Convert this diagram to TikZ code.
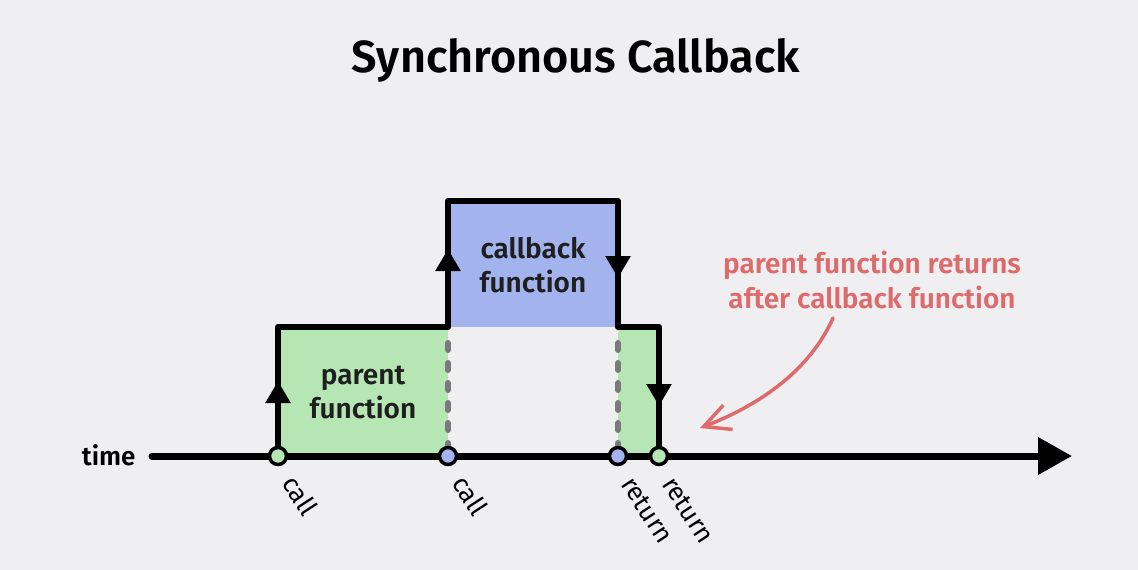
\documentclass[tikz,border=0pt]{standalone}
\usepackage{fontspec}
\setmainfont{Fira Sans}
\newfontfamily\semib{Fira Sans SemiBold}
\usetikzlibrary{arrows.meta}
\definecolor{bg}{HTML}{EFEFF2}
\definecolor{pgreen}{HTML}{B5E6B3}
\definecolor{pblue}{HTML}{A3B3EE}
\definecolor{note}{HTML}{DD6B6B}
\definecolor{dgray}{HTML}{7A7A7A}
\tikzset{
  lbl/.style={font=\semib\fontsize{28}{34}\selectfont, text=black!88, align=center},
  outline/.style={line width=6pt, line join=round, line cap=round},
  dot/.style={circle, draw=black, line width=3.5pt, minimum size=17pt, inner sep=0pt},
  tick/.style={font=\fontsize{26}{30}\selectfont, rotate=-57, anchor=base west, inner sep=0pt},
  mid/.style={-{Triangle[length=22pt,width=24pt]}},
  dashline/.style={dgray, line width=6pt, line cap=round, dash pattern=on 7pt off 13pt},
}
\begin{document}
\begin{tikzpicture}[x=1pt,y=-1pt]
\fill[bg] (0,0) rectangle (1138,570);
\useasboundingbox (0,0) rectangle (1138,570);
\node[font=\semib\fontsize{45}{52}\selectfont] (title) at (576,60) {Synchronous Callback};
% fills
\fill[pgreen] (278,327) rectangle (448,456);
\fill[pgreen] (618,327) rectangle (659,456);
\fill[pblue] (448,201) rectangle (618,327);
% dashed
\draw[dashline] (448,343) -- (448,446);
\draw[dashline] (618,343) -- (618,446);
% outline
\draw[outline] (278,456) -- (278,327) -- (448,327) -- (448,201) -- (618,201) -- (618,327) -- (659,327) -- (659,456);
% direction arrows
\draw[line width=6pt, mid] (278,420) -- (278,381);
\draw[line width=6pt, mid] (448,290) -- (448,249);
\draw[line width=6pt, mid] (618,240) -- (618,278);
\draw[line width=6pt, mid] (659,366) -- (659,406);
% time axis
\node[font=\semib\fontsize{26}{30}\selectfont, anchor=east] (time) at (139,455) {time};
\coordinate (tstart) at (152,456);
\coordinate (tend) at (1072,456);
\draw[line width=7pt, line cap=round, -{Triangle[length=34pt,width=36pt]}] (tstart) -- (tend);
% labels
\node[lbl] (parent) at (363,392) {parent\\function};
\node[lbl] (callback) at (533,265) {callback\\function};
% dots
\node[dot, fill=pgreen] (c1) at (278,456) {};
\node[dot, fill=pblue] (c2) at (448,456) {};
\node[dot, fill=pblue] (r1) at (618,456) {};
\node[dot, fill=pgreen] (r2) at (659,456) {};
\node[tick] at ([shift={(3,27)}]c1.center) {call};
\node[tick] at ([shift={(3,27)}]c2.center) {call};
\node[tick] at ([shift={(2,28)}]r1.center) {return};
\node[tick] at ([shift={(2,28)}]r2.center) {return};
% note
\node[font=\semib\fontsize{28}{35}\selectfont, text=note, align=center] (notetxt) at (872,280) {parent function returns\\after callback function};
\coordinate (notetip) at (700,428);
\draw[note, line width=3.5pt, line cap=round, -{Straight Barb[length=26pt,width=26pt,line width=3.5pt]}] (833,318) .. controls (810,370) and (760,405) .. (notetip);
\end{tikzpicture}
\end{document}
